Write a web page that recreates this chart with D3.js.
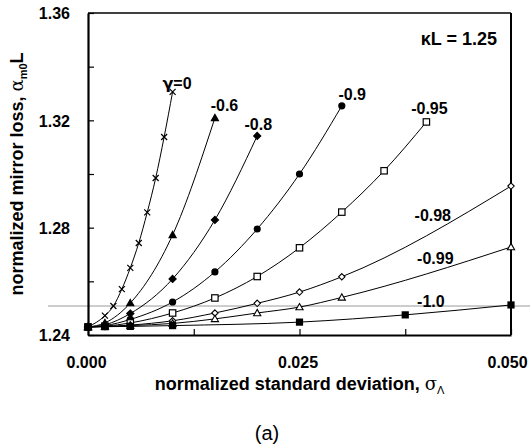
<!DOCTYPE html>
<html>
<head>
<meta charset="utf-8">
<script src="https://cdn.jsdelivr.net/npm/d3@7"></script>
<style>
  html, body { margin: 0; padding: 0; background: #fff; }
  svg { display: block; }
  text { font-family: "Liberation Sans", Arial, sans-serif; }
</style>
</head>
<body>
<div id="chart"></div>
<script>
// ---- data ----
const gammaLabels = ["γ=0", "-0.6", "-0.8", "-0.9", "-0.95", "-0.98", "-0.99", "-1.0"];
const markerTypes = ["cross", "triangle", "diamond", "circle", "squareOpen", "diamondOpen", "triangleOpen", "square"];

const sigma_g0   = [0, 0.002, 0.003, 0.004, 0.005, 0.006, 0.007, 0.008, 0.009, 0.010];
const loss_g0    = [1.243, 1.2472, 1.2508, 1.2571, 1.2650, 1.2743, 1.2857, 1.2985, 1.3138, 1.3306];
const sigma_g06  = [0, 0.002, 0.005, 0.010, 0.015];
const loss_g06   = [1.243, 1.2445, 1.2519, 1.2773, 1.3209];
const sigma_g08  = [0, 0.002, 0.005, 0.010, 0.015, 0.020];
const loss_g08   = [1.243, 1.2438, 1.2480, 1.2609, 1.2829, 1.3142];
const sigma_g09  = [0, 0.002, 0.005, 0.010, 0.015, 0.020, 0.025, 0.030];
const loss_g09   = [1.243, 1.2435, 1.2458, 1.2523, 1.2635, 1.2795, 1.3000, 1.3254];
const sigma_g095 = [0, 0.002, 0.005, 0.010, 0.015, 0.020, 0.025, 0.030, 0.035, 0.040];
const loss_g095  = [1.243, 1.2433, 1.2445, 1.2482, 1.2538, 1.2618, 1.2725, 1.2858, 1.3012, 1.3194];
const sigma_g098 = [0, 0.002, 0.005, 0.010, 0.015, 0.020, 0.025, 0.030, 0.050];
const loss_g098  = [1.243, 1.2432, 1.2437, 1.2453, 1.2482, 1.2518, 1.2560, 1.2617, 1.2955];
const sigma_g099 = [0, 0.002, 0.005, 0.010, 0.015, 0.020, 0.025, 0.030, 0.050];
const loss_g099  = [1.243, 1.2431, 1.2435, 1.2443, 1.2460, 1.2482, 1.2504, 1.2540, 1.2728];
const sigma_g10  = [0, 0.002, 0.005, 0.010, 0.025, 0.0375, 0.050];
const loss_g10   = [1.243, 1.2431, 1.2432, 1.2435, 1.2448, 1.2475, 1.2512];

const xTicks = [0, 0.0125, 0.025, 0.0375, 0.05];
const xTickLabels = [0, 0.025, 0.05];
const yTicks = [1.24, 1.26, 1.28, 1.30, 1.32, 1.34, 1.36];
const yTickLabels = [1.24, 1.28, 1.32, 1.36];
const refLineValue = [1.2508];
const kappaLabel = "κL = 1.25";

const seriesX = [sigma_g0, sigma_g06, sigma_g08, sigma_g09, sigma_g095, sigma_g098, sigma_g099, sigma_g10];
const seriesY = [loss_g0, loss_g06, loss_g08, loss_g09, loss_g095, loss_g098, loss_g099, loss_g10];

// label anchor positions in data coords (start x, baseline y)
const labelPos = [
  [0.0088, 1.3315], [0.0145, 1.3235], [0.0185, 1.3165], [0.0296, 1.3275],
  [0.0382, 1.3223], [0.0386, 1.2825], [0.0389, 1.2663], [0.0389, 1.2505]
];

// ---- layout ----
const W = 530, H = 447;
const margin = { top: 13, right: 19, bottom: 112, left: 88 };
const iw = W - margin.left - margin.right;
const ih = H - margin.top - margin.bottom;

const svg = d3.select("#chart").append("svg").attr("width", W).attr("height", H);

const x = d3.scaleLinear().domain([0, 0.05]).range([margin.left, margin.left + iw]);
const y = d3.scaleLinear().domain([1.24, 1.36]).range([margin.top + ih, margin.top]);

// reference line
svg.selectAll(".ref").data(refLineValue).enter().append("line")
  .attr("x1", 48).attr("x2", W).attr("y1", d => y(d)).attr("y2", d => y(d))
  .attr("stroke", "#9a9a9a").attr("stroke-width", 1);

// frame: top & right
svg.append("line").attr("x1", margin.left).attr("x2", margin.left + iw)
  .attr("y1", margin.top).attr("y2", margin.top).attr("stroke", "#000").attr("stroke-width", 1.3);
svg.append("line").attr("x1", margin.left + iw).attr("x2", margin.left + iw)
  .attr("y1", margin.top).attr("y2", margin.top + ih).attr("stroke", "#000").attr("stroke-width", 2);

// axes
const fmtY = d3.format(".2f"), fmtX = d3.format(".3f");
const yAxis = d3.axisLeft(y).tickValues(yTicks).tickSizeInner(-6).tickSizeOuter(0).tickPadding(18)
  .tickFormat(d => yTickLabels.some(v => Math.abs(v - d) < 1e-9) ? fmtY(d) : "");
const xAxis = d3.axisBottom(x).tickValues(xTicks).tickSizeInner(-6).tickSizeOuter(0).tickPadding(22)
  .tickFormat(d => xTickLabels.some(v => Math.abs(v - d) < 1e-9) ? fmtX(d) : "");

const gy = svg.append("g").attr("transform", `translate(${margin.left},0)`).call(yAxis);
const gx = svg.append("g").attr("transform", `translate(0,${margin.top + ih})`).call(xAxis);
[gx, gy].forEach(g => {
  g.select(".domain").attr("stroke-width", 2.2);
  g.selectAll(".tick line").attr("stroke-width", 1.2);
  g.selectAll(".tick text").attr("font-size", 16).attr("font-weight", "bold")
    .attr("font-family", "Liberation Sans, Arial, sans-serif").attr("fill", "#000");
});
gy.selectAll(".tick text").attr("dy", "0.36em");
gx.selectAll(".tick text").attr("dx", d => d === 0 ? -2 : (d === 0.05 ? -4 : -2));

// lines
const line = d3.line().x(d => x(d[0])).y(d => y(d[1])).curve(d3.curveMonotoneX);
const plot = svg.append("g");
seriesX.forEach((xs, i) => {
  const pts = xs.map((v, j) => [v, seriesY[i][j]]);
  plot.append("path").datum(pts).attr("d", line)
    .attr("fill", "none").attr("stroke", "#000").attr("stroke-width", 1);
});

// markers
function drawMarker(g, type, cx, cy) {
  const s = 3;
  if (type === "cross") {
    g.append("path").attr("d", `M${cx-s},${cy-s}L${cx+s},${cy+s}M${cx-s},${cy+s}L${cx+s},${cy-s}`)
      .attr("stroke", "#000").attr("stroke-width", 1.2);
  } else if (type === "triangle" || type === "triangleOpen") {
    const r = 3.6;
    g.append("path").attr("d", `M${cx},${cy-r}L${cx+r},${cy+r*0.75}L${cx-r},${cy+r*0.75}Z`)
      .attr("fill", type === "triangle" ? "#000" : "#fff").attr("stroke", "#000").attr("stroke-width", 1.1);
  } else if (type === "diamond" || type === "diamondOpen") {
    const r = type === "diamond" ? 3.6 : 3.2;
    g.append("path").attr("d", `M${cx},${cy-r}L${cx+r},${cy}L${cx},${cy+r}L${cx-r},${cy}Z`)
      .attr("fill", type === "diamond" ? "#000" : "#fff").attr("stroke", "#000").attr("stroke-width", 1.1);
  } else if (type === "circle") {
    g.append("circle").attr("cx", cx).attr("cy", cy).attr("r", 3.6).attr("fill", "#000");
  } else if (type === "squareOpen") {
    g.append("rect").attr("x", cx - 3.2).attr("y", cy - 3.2).attr("width", 6.4).attr("height", 6.4)
      .attr("fill", "#fff").attr("stroke", "#000").attr("stroke-width", 1.2);
  } else if (type === "square") {
    g.append("rect").attr("x", cx - 3.6).attr("y", cy - 3.6).attr("width", 7.2).attr("height", 7.2)
      .attr("fill", "#000");
  }
}
seriesX.forEach((xs, i) => {
  xs.forEach((v, j) => drawMarker(plot, markerTypes[i], x(v), y(seriesY[i][j])));
});

// series labels
gammaLabels.forEach((lab, i) => {
  const t = svg.append("text").attr("x", x(labelPos[i][0])).attr("y", y(labelPos[i][1]))
    .attr("font-size", 16).attr("font-weight", "bold").attr("fill", "#000");
  if (i === 0) {
    t.append("tspan").attr("font-family", "DejaVu Sans, sans-serif").text("γ");
    t.append("tspan").text("=0");
  } else {
    t.text(lab);
  }
});

// kappa label
svg.append("text").attr("x", 497).attr("y", 45).attr("text-anchor", "end")
  .attr("font-size", 18).attr("font-weight", "bold").text(kappaLabel);

// axis titles
const xt = svg.append("text").attr("x", margin.left + iw / 2).attr("y", 390).attr("text-anchor", "middle")
  .attr("font-size", 18).attr("font-weight", "bold");
xt.append("tspan").text("normalized standard deviation, ");
xt.append("tspan").attr("font-weight", "normal").attr("font-family", "DejaVu Serif, serif").text("σ");
xt.append("tspan").attr("font-size", 11).attr("font-weight", "normal").attr("dy", 4).text("Λ");

const yt = svg.append("text").attr("transform", `translate(23,${margin.top + ih / 2}) rotate(-90)`)
  .attr("text-anchor", "middle").attr("font-size", 18).attr("font-weight", "bold");
yt.append("tspan").text("normalized mirror loss, ");
yt.append("tspan").attr("font-weight", "normal").attr("font-family", "DejaVu Serif, serif").text("α");
yt.append("tspan").attr("font-size", 11).attr("dy", 4).text("m0");
yt.append("tspan").attr("dy", -4).text("L");

// caption
svg.append("text").attr("x", 267).attr("y", 440).attr("text-anchor", "middle")
  .attr("font-family", "Liberation Serif, Times New Roman, serif").attr("font-size", 20).text("(a)");
</script>
</body>
</html>
